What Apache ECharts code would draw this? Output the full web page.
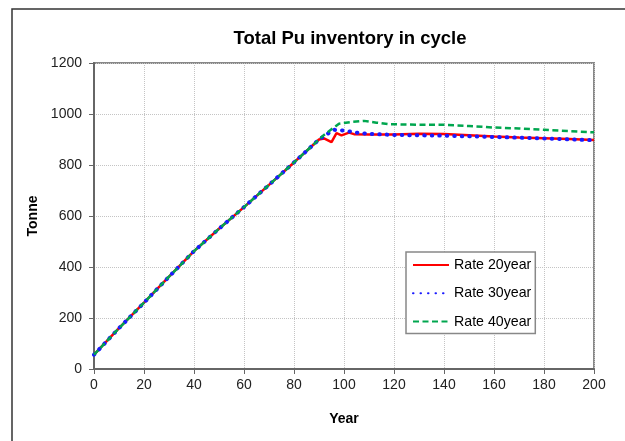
<!DOCTYPE html>
<html lang="en">
<head>
    <meta charset="UTF-8">
    <title>Total Pu inventory in cycle</title>
    <script src="https://cdn.jsdelivr.net/npm/echarts@6/dist/echarts.min.js"></script>
    <style>
        html, body { margin: 0; padding: 0; background: #fff; }
        #chart { width: 625px; height: 441px; }
    </style>
</head>
<body>
<div id="chart"></div>

<script type="text/javascript">
    // shared rising part (all three rates overlap here)
    var riseYears  = [0, 10, 20, 30, 40, 50, 60, 70, 80, 85, 90];
    var riseValues = [56, 160, 260, 362, 462, 550, 635, 722, 810, 855, 900];

    // tails after ~year 90
    var rate20Years  = [92, 95, 97, 99, 102, 104, 110, 120, 130, 140, 150, 160, 170, 180, 190, 200];
    var rate20Values = [904, 890, 925, 916, 927, 921, 920, 920, 923, 922, 917, 912, 908, 905, 902, 898];

    var rate30Years  = [93, 96, 100, 105, 110, 120, 140, 160, 180, 200];
    var rate30Values = [920, 938, 935, 927, 922, 918, 915, 910, 904, 897];

    var rate40Years  = [92, 95, 98, 103, 108, 113, 118, 130, 140, 150, 160, 170, 180, 190, 200];
    var rate40Values = [918, 940, 962, 969, 973, 966, 960, 958, 958, 953, 947, 943, 938, 933, 928];

    var seriesNames = ['Rate 20year', 'Rate 30year', 'Rate 40year'];
    var xTicks = [0, 20, 40, 60, 80, 100, 120, 140, 160, 180, 200];
    var yTicks = [0, 200, 400, 600, 800, 1000, 1200];

    function pairs(years, values) {
        var out = [];
        riseYears.forEach(function (y, i) { out.push([y, riseValues[i]]); });
        years.forEach(function (y, i) { out.push([y, values[i]]); });
        return out;
    }

    var font = 'Arial, "Liberation Sans", sans-serif';

    var option = {
        animation: false,
        backgroundColor: '#fff',
        graphic: [{
            type: 'rect',
            shape: { x: 12, y: 9, width: 700, height: 500 },
            style: { fill: 'none', stroke: '#333', lineWidth: 1.5 },
            z: 100
        }],
        title: {
            text: 'Total Pu inventory in cycle',
            left: 345,
            top: 24,
            textAlign: 'center',
            textStyle: { fontFamily: font, fontSize: 18.5, fontWeight: 'bold', color: '#000' }
        },
        grid: {
            left: 94,
            top: 63,
            right: 31,
            bottom: 72,
            show: true,
            borderColor: '#888',
            borderWidth: 2,
            backgroundColor: '#fff'
        },
        legend: {
            orient: 'vertical',
            left: 406,
            top: 252,
            data: seriesNames,
            backgroundColor: '#fff',
            borderColor: '#888',
            borderWidth: 1.5,
            padding: [6, 4, 5, 6],
            itemGap: 14.3,
            itemWidth: 36,
            itemHeight: 14,
            itemStyle: { opacity: 0 },
            textStyle: { fontFamily: font, fontSize: 14.2, lineHeight: 14, color: '#000' }
        },
        xAxis: {
            type: 'value',
            min: xTicks[0],
            max: xTicks[xTicks.length - 1],
            interval: 20,
            name: 'Year',
            nameLocation: 'middle',
            nameGap: 43,
            nameTextStyle: { fontFamily: font, fontSize: 14, fontWeight: 'bold', color: '#000' },
            axisLine: { show: true, lineStyle: { color: '#666', width: 2 } },
            axisTick: { show: true, inside: false, length: 5, lineStyle: { color: '#666' } },
            axisLabel: { fontFamily: font, fontSize: 14, color: '#222', margin: 9 },
            splitLine: { show: true, lineStyle: { color: '#c4c4c4', type: 'dotted', width: 1 } }
        },
        yAxis: {
            type: 'value',
            min: yTicks[0],
            max: yTicks[yTicks.length - 1],
            interval: 200,
            name: 'Tonne',
            nameLocation: 'middle',
            nameGap: 49,
            nameRotate: 90,
            nameTextStyle: { fontFamily: font, fontSize: 14, fontWeight: 'bold', color: '#000' },
            axisLine: { show: true, lineStyle: { color: '#666', width: 2 } },
            axisTick: { show: true, inside: false, length: 5, lineStyle: { color: '#666' } },
            axisLabel: {
                fontFamily: font, fontSize: 14, color: '#222', margin: 12,
                formatter: function (v) { return String(v); }
            },
            splitLine: { show: true, lineStyle: { color: '#c4c4c4', type: 'dotted', width: 1 } }
        },
        series: [
            {
                name: seriesNames[0],
                type: 'line',
                symbol: 'none',
                data: pairs(rate20Years, rate20Values),
                lineStyle: { color: '#ff0000', width: 2.5, type: 'solid' },
                itemStyle: { color: '#ff0000' },
                z: 2
            },
            {
                name: seriesNames[1],
                type: 'line',
                symbol: 'none',
                data: pairs(rate30Years, rate30Values),
                lineStyle: { color: '#1a1aff', width: 4, type: [0.5, 7], cap: 'round' },
                itemStyle: { color: '#1a1aff' },
                z: 3
            },
            {
                name: seriesNames[2],
                type: 'line',
                symbol: 'none',
                data: pairs(rate40Years, rate40Values),
                lineStyle: { color: '#00a64f', width: 2.5, type: [6, 3.5] },
                itemStyle: { color: '#00a64f' },
                z: 4
            }
        ]
    };

    var myChart = echarts.init(document.getElementById('chart'));
    myChart.setOption(option);
</script>
</body>
</html>
